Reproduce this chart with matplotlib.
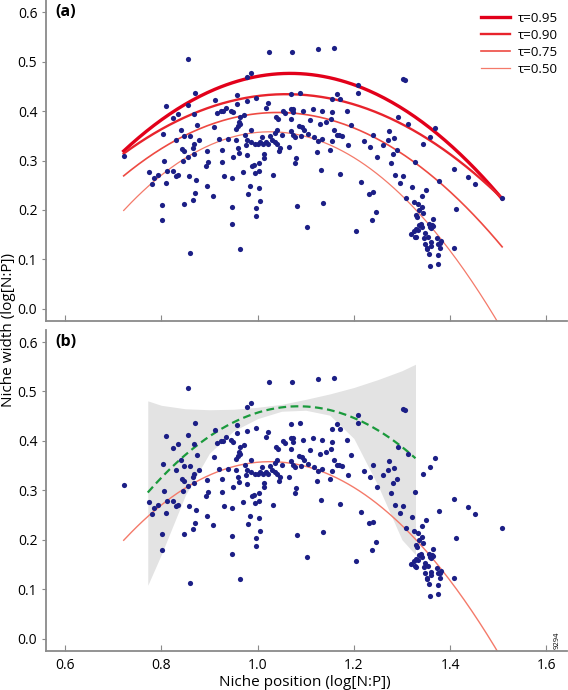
import numpy as np
import matplotlib
matplotlib.use("Agg")
import matplotlib.pyplot as plt

plt.rcParams['font.family'] = ['Open Sans', 'DejaVu Sans']

# ---- scatter data (niche position, niche width) ----
pos = [0.855,0.871,0.809,0.855,0.835,0.824,0.869,0.875,0.911,0.842,0.804,0.848,0.860,0.831,0.878,0.867,0.866,0.844,0.847,0.896,0.868,0.856,0.723,0.909,
       0.806,0.846,0.892,0.898,0.774,0.793,0.785,0.812,0.825,0.831,0.835,0.858,0.872,0.780,0.810,0.894,0.871,0.907,0.865,0.847,0.801,0.802,0.860,
       1.024,1.072,0.986,0.978,0.958,1.069,1.088,0.996,0.978,1.021,1.017,0.957,0.934,0.916,0.925,0.929,0.945,0.950,0.972,0.963,1.053,1.057,1.069,1.073,1.073,1.095,1.116,1.038,1.042,1.070,0.961,0.963,0.959,0.956,1.109,0.986,1.040,1.036,1.069,1.086,1.092,1.097,0.920,0.939,0.974,0.955,0.978,1.009,1.026,1.031,1.036,1.040,1.050,1.074,1.078,1.090,1.105,1.118,1.005,1.000,1.012,1.017,1.022,0.995,0.986,0.975,0.927,0.960,0.961,0.979,1.014,1.014,1.046,1.044,1.065,0.950,1.079,
       0.927,0.988,0.993,1.004,1.078,0.931,0.946,0.969,0.995,1.004,1.033,0.985,1.002,0.980,1.005,0.947,0.997,1.082,0.997,0.947,1.102,0.963,
       1.125,1.159,1.302,1.306,1.208,1.209,1.165,1.155,1.171,1.134,1.155,1.186,1.152,1.143,1.130,1.195,1.292,1.313,1.159,1.164,1.169,1.176,1.134,1.126,1.154,1.274,1.240,1.283,1.270,1.222,1.187,1.150,1.123,1.233,1.261,1.289,1.282,1.249,
       1.277,1.132,1.171,1.285,1.303,1.295,1.320,1.215,1.231,1.240,1.135,1.308,1.325,1.247,1.237,1.204,1.318,1.325,1.326,
       1.369,1.359,1.343,
       1.328,1.407,1.438,1.452,1.508,1.377,1.350,1.342,1.334,1.341,1.335,1.413,1.343,1.330,1.332,1.365,1.339,1.335,1.330,1.333,1.341,1.358,1.362,1.360,1.365,1.356,1.348,1.355,1.346,1.330,1.372,1.382,1.379,1.375,1.360,1.360,1.348,1.351,1.351,1.379,1.408,1.357,1.375,1.359,1.375]
width = [0.506,0.436,0.410,0.412,0.394,0.386,0.394,0.371,0.422,0.361,0.353,0.350,0.350,0.341,0.341,0.333,0.326,0.323,0.319,0.320,0.314,0.308,0.310,0.368,
         0.298,0.298,0.288,0.296,0.277,0.271,0.265,0.279,0.278,0.269,0.270,0.268,0.260,0.253,0.254,0.248,0.234,0.229,0.221,0.212,0.211,0.180,0.113,
         0.519,0.519,0.477,0.469,0.432,0.434,0.437,0.426,0.421,0.417,0.407,0.415,0.407,0.396,0.400,0.400,0.401,0.398,0.391,0.388,0.400,0.396,0.405,0.405,0.397,0.401,0.405,0.387,0.383,0.383,0.378,0.374,0.369,0.364,0.381,0.361,0.361,0.356,0.360,0.369,0.368,0.361,0.344,0.344,0.352,0.341,0.341,0.347,0.349,0.342,0.337,0.334,0.351,0.352,0.347,0.349,0.354,0.347,0.337,0.334,0.334,0.337,0.333,0.334,0.337,0.331,0.322,0.326,0.316,0.312,0.314,0.306,0.326,0.319,0.327,0.307,0.305,
         0.297,0.288,0.291,0.295,0.295,0.268,0.264,0.276,0.274,0.278,0.270,0.248,0.244,0.232,0.218,0.207,0.204,0.209,0.188,0.171,0.165,0.121,
         0.525,0.528,0.464,0.462,0.453,0.437,0.434,0.424,0.424,0.401,0.398,0.401,0.383,0.378,0.373,0.371,0.387,0.373,0.362,0.352,0.352,0.349,0.344,0.339,0.339,0.360,0.351,0.346,0.342,0.339,0.331,0.322,0.318,0.327,0.331,0.322,0.314,0.307,
         0.295,0.280,0.273,0.270,0.268,0.255,0.246,0.257,0.233,0.236,0.215,0.224,0.217,0.195,0.179,0.157,0.152,0.157,0.146,
         0.366,0.347,0.334,
         0.297,0.282,0.266,0.252,0.224,0.258,0.240,0.228,0.213,0.206,0.199,0.203,0.194,0.189,0.185,0.181,0.172,0.169,0.162,0.159,0.165,0.165,0.169,0.163,0.167,0.171,0.153,0.146,0.144,0.145,0.143,0.137,0.133,0.132,0.135,0.128,0.132,0.123,0.121,0.123,0.123,0.111,0.109,0.086,0.090]

# ---- quantile regression curves (vertex form: peak - k*(x - vertex)^2) ----
taus = ['0.95', '0.90', '0.75', '0.50']
q_peak = [0.476, 0.434, 0.397, 0.358]
q_vertex = [1.068, 1.060, 1.042, 1.026]
q_k = [1.31, 1.05, 1.25, 1.72]
q_range = (0.722, 1.508)
q_colors = ['#e2001a', '#e8232c', '#ee4a42', '#f47a6a']
q_lw = [2.4, 1.7, 1.2, 0.9]

# ---- piecewise fit (green dashed) and confidence band ----
g_peak, g_vertex, g_k = 0.470, 1.085, 1.78
g_range = (0.772, 1.328)
band_x = [0.772, 0.80, 0.85, 0.90, 0.95, 1.00, 1.05, 1.10, 1.15, 1.20, 1.25, 1.30, 1.328]
band_hi = [0.481, 0.472, 0.465, 0.463, 0.464, 0.468, 0.474, 0.484, 0.495, 0.508, 0.524, 0.542, 0.555]
band_lo = [0.108, 0.170, 0.290, 0.375, 0.420, 0.445, 0.460, 0.462, 0.452, 0.405, 0.310, 0.200, 0.170]

xticks = [0.6, 0.8, 1.0, 1.2, 1.4, 1.6]
yticks = [0.0, 0.1, 0.2, 0.3, 0.4, 0.5, 0.6]

W, H = 568, 690
fig = plt.figure(figsize=(W/100, H/100), dpi=100)
axL = 45.7/W
axW = (567-45.7)/W
ax1 = fig.add_axes([axL, 1-321/H, axW, 321/H])
ax2 = fig.add_axes([axL, 1-650.7/H, axW, 320.7/H])

spine_col = '#8a8a8a'
dot_col = '#1c1f86'

def style(ax, label, show_x):
    ax.set_xlim(0.56, 1.6427)
    ax.set_ylim(-0.0243, 0.6243)
    for s in ['top', 'right']:
        ax.spines[s].set_visible(False)
    for s in ['left', 'bottom']:
        ax.spines[s].set_color(spine_col)
        ax.spines[s].set_linewidth(1.3)
    ax.set_xticks(xticks)
    ax.set_yticks(yticks)
    ax.set_yticklabels(['%.1f' % v for v in yticks])
    if show_x:
        ax.set_xticklabels(['%.1f' % v for v in xticks])
    else:
        ax.set_xticklabels([])
    ax.tick_params(axis='x', direction='in', length=4, color=spine_col, labelsize=10, pad=5)
    ax.tick_params(axis='y', direction='out', length=3, color=spine_col, labelsize=10, pad=3)
    ax.text(0.018, 1 - 12/321, label, transform=ax.transAxes, fontsize=11.5, fontweight='bold',
            va='center', ha='left')

xx = np.linspace(q_range[0], q_range[1], 200)

# panel (a)
for t, p, v, k, c, lw in zip(taus, q_peak, q_vertex, q_k, q_colors, q_lw):
    ax1.plot(xx, p - k*(xx - v)**2, color=c, lw=lw, zorder=2, label='\u03c4=' + t)
ax1.scatter(pos, width, s=14, color=dot_col, zorder=3, linewidths=0)
style(ax1, '(a)', False)
ax1.legend(loc='upper right', bbox_to_anchor=(1.0, 0.992), frameon=False, fontsize=9.5,
           handlelength=2.2, handletextpad=0.6, labelspacing=0.3, borderaxespad=0.3)

# panel (b)
ax2.fill_between(band_x, band_lo, band_hi, color='#e3e3e3', lw=0, zorder=1)
p, v, k = q_peak[3], q_vertex[3], q_k[3]
ax2.plot(xx, p - k*(xx - v)**2, color=q_colors[3], lw=1.0, zorder=2)
gx = np.linspace(g_range[0], g_range[1], 150)
ax2.plot(gx, g_peak - g_k*(gx - g_vertex)**2, color='#1a9a3c', lw=1.6, ls=(0, (3.5, 2)), zorder=2)
ax2.scatter(pos, width, s=14, color=dot_col, zorder=3, linewidths=0)
style(ax2, '(b)', True)

fig.text(305/W, 1-682/H, 'Niche position (log[N:P])', ha='center', va='center', fontsize=11)
fig.text(9/W, 1-330/H, 'Niche width (log[N:P])', ha='center', va='center', fontsize=11, rotation=90)
fig.text(557/W, 1-640/H, '9294', ha='center', va='center', fontsize=5.5, rotation=90)

fig.savefig('out.png', dpi=100)
